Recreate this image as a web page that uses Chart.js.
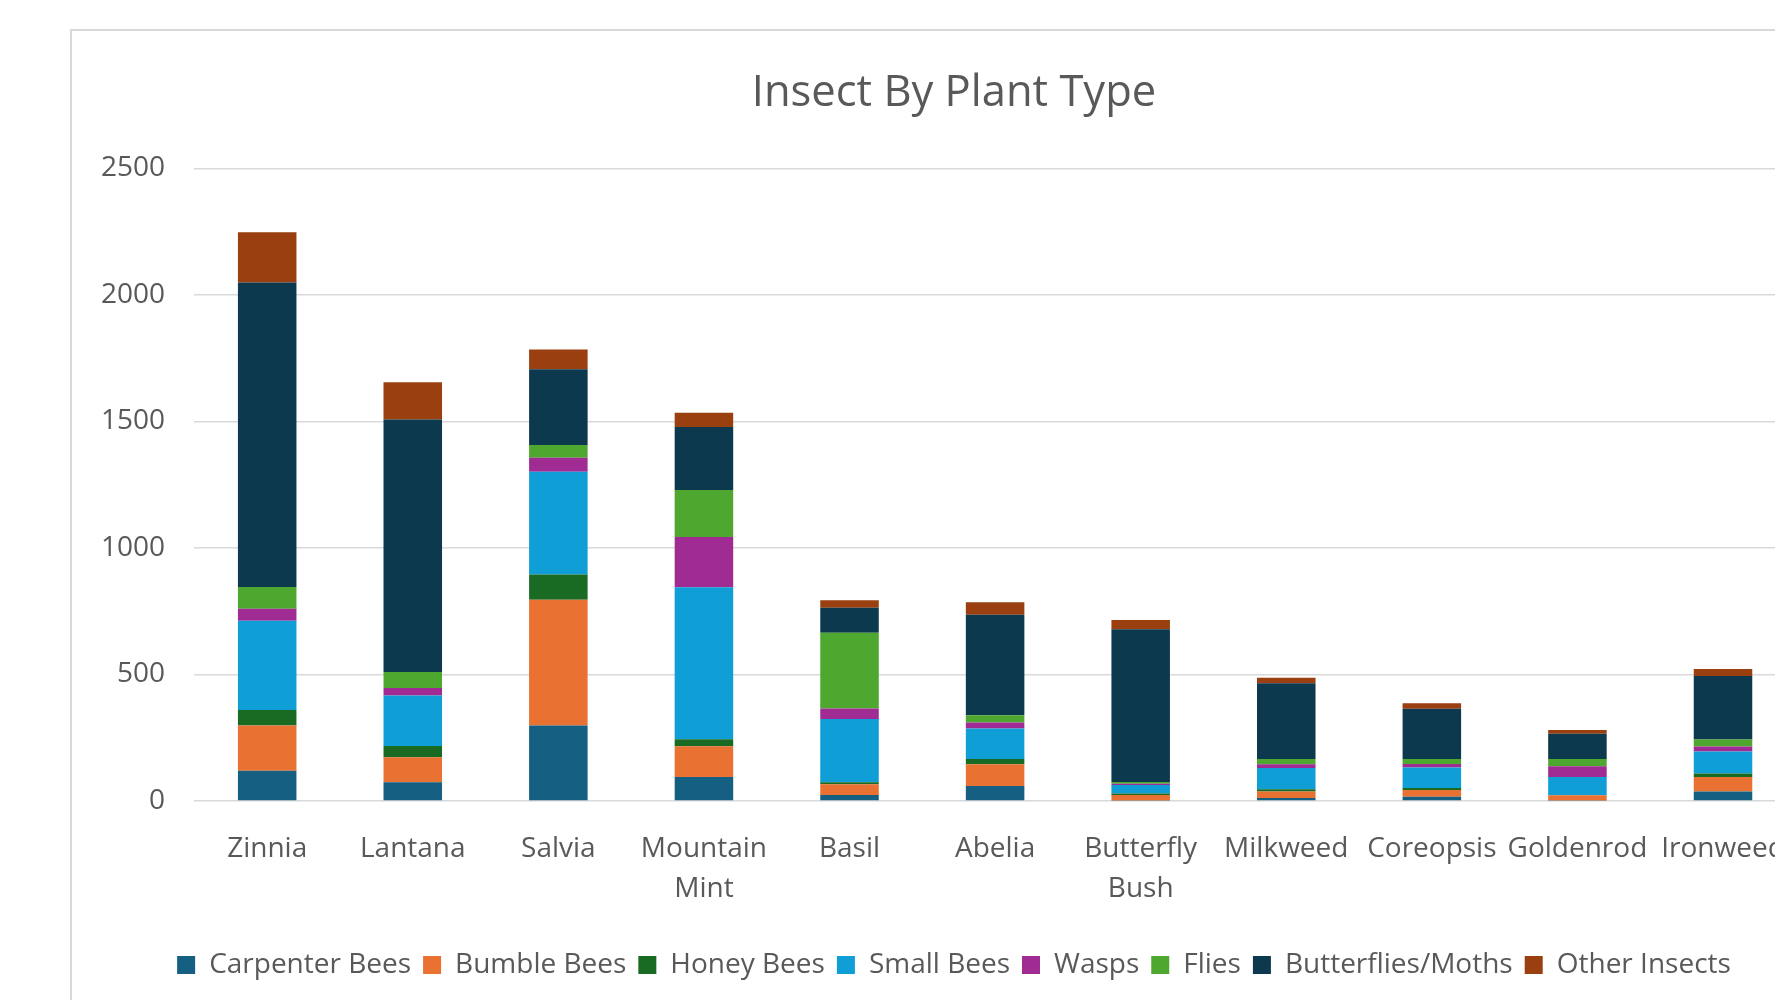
<!DOCTYPE html>
<html>
<head>
<meta charset="utf-8">
<title>Insect By Plant Type</title>
<script src="https://cdn.jsdelivr.net/npm/chart.js@4.4.1/dist/chart.umd.min.js"></script>
<style>
    html, body { margin: 0; padding: 0; background: #ffffff; width: 1775px; height: 1000px; overflow: hidden; }
    #frame { position: absolute; left: 70px; top: 29px; width: 1768px; height: 1010px; border: 2px solid #d9d9d9; box-sizing: border-box; }
    #wrap { position: absolute; left: 71px; top: 30px; width: 1766px; height: 1000px; }
</style>
</head>
<body>
<div id="frame"></div>
<div id="wrap"><canvas id="insectChart"></canvas></div>
<script>
// 植物ごとの昆虫カウント
const plants = ['Zinnia', 'Lantana', 'Salvia', ['Mountain', 'Mint'], 'Basil', 'Abelia',
    ['Butterfly', 'Bush'], 'Milkweed', 'Coreopsis', 'Goldenrod', 'Ironweed'];

const carpenterBees   = [120,   74, 298,  95,  24,  59,   2,  12,  17,   2,  38];
const bumbleBees      = [178,   99, 497, 121,  42,  86,  22,  26,  26,  21,  57];
const honeyBees       = [ 62,   44, 100,  28,   8,  21,   6,   8,   8,   0,  14];
const smallBees       = [352,  200, 406, 601, 250, 121,  33,  84,  81,  72,  87];
const wasps           = [ 48,   30,  56, 198,  42,  23,   5,  15,  14,  42,  19];
const flies           = [ 86,   63,  50, 186, 299,  29,   7,  21,  20,  29,  28];
const butterfliesMoths = [1203, 998, 300, 249,  99, 397, 604, 299, 199, 100, 251];
const otherInsects    = [199,  147,  78,  57,  29,  50,  36,  22,  21,  15,  28];

const seriesNames = ['Carpenter Bees', 'Bumble Bees', 'Honey Bees', 'Small Bees',
    'Wasps', 'Flies', 'Butterflies/Moths', 'Other Insects'];
const seriesColors = ['#156082', '#E97132', '#196B24', '#0F9ED5',
    '#A02B93', '#4EA72E', '#0D394E', '#993F10'];
const yTicks = [0, 500, 1000, 1500, 2000, 2500];

const seriesValues = [carpenterBees, bumbleBees, honeyBees, smallBees,
    wasps, flies, butterfliesMoths, otherInsects];

const FONT = "'Open Sans', 'Noto Sans', sans-serif";
const TEXT_COLOR = '#595959';

const datasets = seriesNames.map((name, i) => ({
    label: name,
    data: seriesValues[i],
    backgroundColor: seriesColors[i],
    borderWidth: 0,
    categoryPercentage: 1.0,
    barPercentage: 0.402
}));

const ctx = document.getElementById('insectChart').getContext('2d');
new Chart(ctx, {
    type: 'bar',
    data: { labels: plants, datasets: datasets },
    options: {
        responsive: true,
        maintainAspectRatio: false,
        animation: false,
        layout: { padding: { left: 0, right: 0, top: 0, bottom: 41 } },
        scales: {
            x: {
                stacked: true,
                grid: { display: false },
                border: { display: false },
                ticks: {
                    color: TEXT_COLOR,
                    font: { family: FONT, size: 28, lineHeight: '40px' },
                    padding: 20.5,
                    maxRotation: 0,
                    autoSkip: false
                },
                afterFit: s => { s.height = 138; }
            },
            y: {
                stacked: true,
                min: 0,
                max: 2500,
                grid: { color: '#d9d9d9', lineWidth: 1.5, drawTicks: false },
                border: { display: false },
                afterBuildTicks: s => { s.ticks = yTicks.map(v => ({ value: v })); },
                ticks: {
                    color: TEXT_COLOR,
                    font: { family: FONT, size: 28 },
                    padding: 29.4,
                    callback: v => String(v)
                },
                afterFit: s => { s.width = 123.4; }
            },
            y2: {
                position: 'right',
                display: true,
                grid: { display: false },
                border: { display: false },
                ticks: { display: false },
                afterFit: s => { s.width = 41.2; }
            }
        },
        plugins: {
            title: {
                display: true,
                text: 'Insect By Plant Type',
                color: TEXT_COLOR,
                font: { family: FONT, size: 43.5, weight: 'normal', lineHeight: 1.2 },
                padding: { top: 37.4, bottom: 48.9 }
            },
            legend: {
                position: 'bottom',
                labels: {
                    color: TEXT_COLOR,
                    font: { family: FONT, size: 28 },
                    boxWidth: 18,
                    boxHeight: 18,
                    padding: 12
                }
            },
            tooltip: { enabled: false }
        }
    }
});
</script>
</body>
</html>
